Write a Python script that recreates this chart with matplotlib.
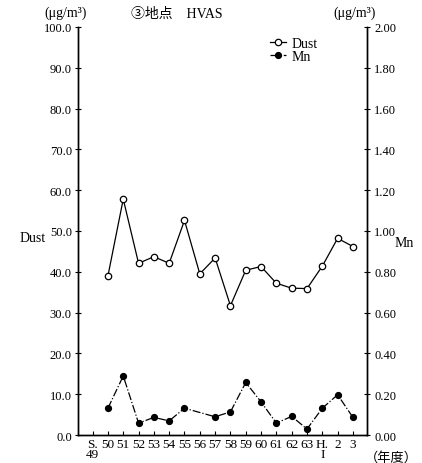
import matplotlib
matplotlib.use('Agg')
from matplotlib import pyplot as plt

plt.rcParams['font.family'] = ['Liberation Serif', 'Noto Sans CJK JP', 'DejaVu Sans']

years = ['S.\n49', '50', '51', '52', '53', '54', '55', '56', '57', '58', '59',
         '60', '61', '62', '63', 'H.\nI', '2', '3']
dust = [None, 39.0, 57.8, 42.1, 43.7, 42.1, 52.6, 39.5, 43.4, 31.7, 40.4,
        41.3, 37.2, 36.0, 35.9, 41.4, 48.2, 46.2]
mn = [None, 0.132, 0.290, 0.059, 0.087, 0.070, 0.132, None, 0.090, 0.114, 0.258,
      0.163, 0.059, 0.092, 0.030, 0.132, 0.198, 0.087]

fig = plt.figure(figsize=(4.22, 4.64), dpi=100)
ax = fig.add_axes([0.185, 0.060, 0.684, 0.880])
ax2 = ax.twinx()

x_dust = [i for i, v in enumerate(dust) if v is not None]
y_dust = [v for v in dust if v is not None]
x_mn = [i for i, v in enumerate(mn) if v is not None]
y_mn = [v for v in mn if v is not None]

ax.plot(x_dust, y_dust, color='black', linewidth=0.9, marker='o', markersize=4.6,
        markerfacecolor='white', markeredgecolor='black', markeredgewidth=0.9,
        label='Dust', zorder=3)
ax2.plot(x_mn, y_mn, color='black', linewidth=0.9, linestyle='-.', marker='o',
         markersize=4.2, markerfacecolor='black', label='Mn', zorder=3)

ax.set_xlim(-0.95, 17.9)
ax.set_ylim(0, 100)
ax2.set_ylim(0, 2.0)

ax.set_yticks([i * 10 for i in range(11)])
ax.set_yticklabels([f'{i * 10:.1f}' for i in range(11)], fontsize=9)
ax2.set_yticks([i * 0.2 for i in range(11)])
ax2.set_yticklabels([f'{i * 0.2:.2f}' for i in range(11)], fontsize=9)
ax.set_xticks(range(len(years)))
ax.set_xticklabels(years, fontsize=9.5, linespacing=0.8, va='top')

ax.tick_params(axis='y', direction='inout', length=5, width=0.8, pad=2)
ax2.tick_params(axis='y', direction='inout', length=5, width=0.8, pad=3)
ax.tick_params(axis='x', direction='in', length=3, width=0.8, pad=2)

for a in (ax, ax2):
    a.spines['top'].set_visible(False)
    for s in ('left', 'right', 'bottom'):
        a.spines[s].set_linewidth(1.0)

fig.text(0.047, 0.485, 'Dust', fontsize=10, ha='left', va='center')
fig.text(0.935, 0.475, 'Mn', fontsize=10, ha='left', va='center')
fig.text(0.105, 0.972, '(μg/m³)', fontsize=10, ha='left', va='center')
fig.text(0.79, 0.972, '(μg/m³)', fontsize=10, ha='left', va='center')
fig.text(0.31, 0.968, '③地点　HVAS', fontsize=10, ha='left', va='center')
fig.text(0.865, 0.012, '（年度）', fontsize=9.5, ha='left', va='center')

h1, l1 = ax.get_legend_handles_labels()
h2, l2 = ax2.get_legend_handles_labels()
ax.legend(h1 + h2, l1 + l2, loc='upper left', bbox_to_anchor=(0.63, 1.0),
          frameon=False, fontsize=10, handlelength=1.2, handletextpad=0.4,
          labelspacing=0.05, borderpad=0.2)

fig.savefig('out.png', dpi=100)
